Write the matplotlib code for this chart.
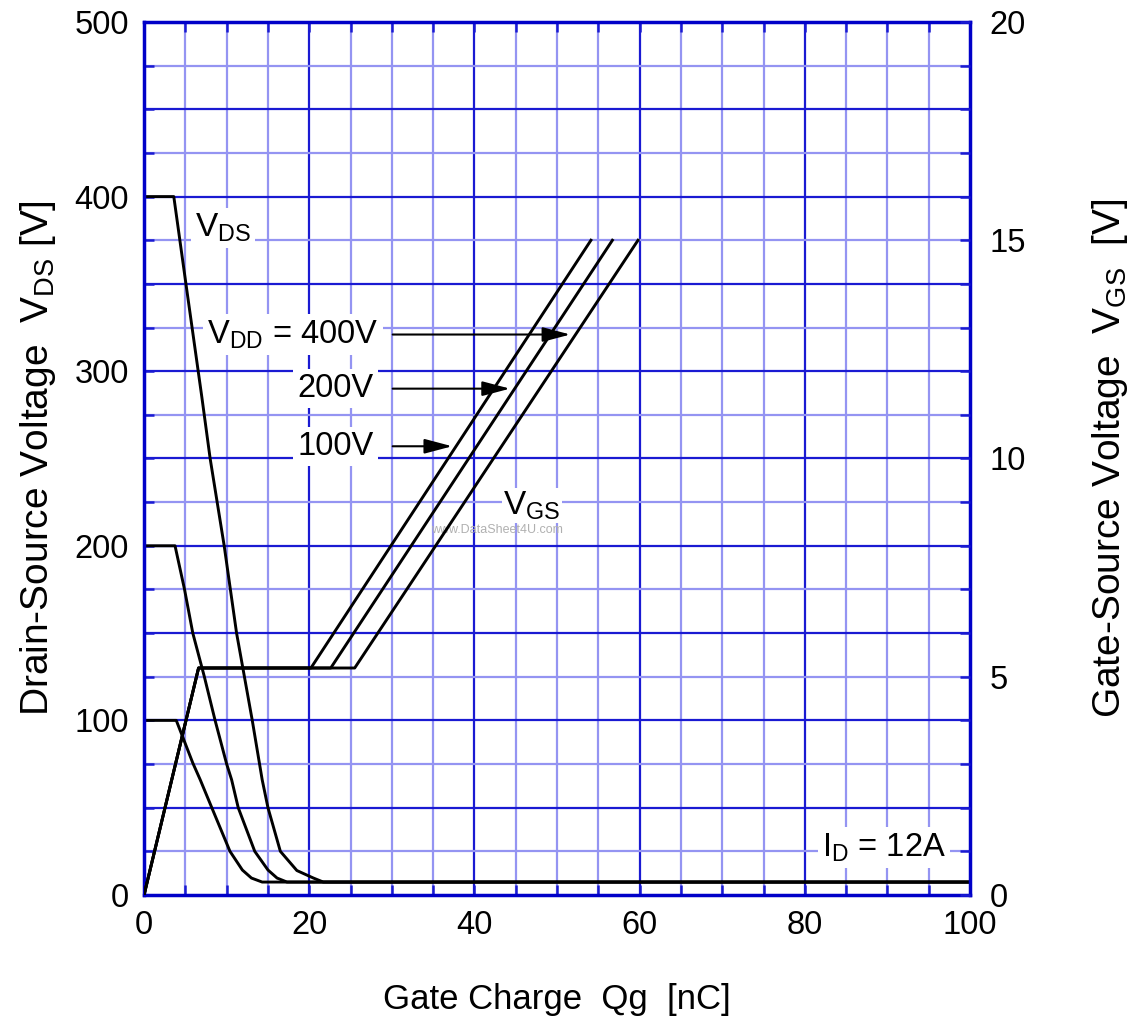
import numpy as np
import matplotlib.pyplot as plt

plt.rcParams['font.family'] = ['Liberation Sans', 'DejaVu Sans']
plt.rcParams['mathtext.fontset'] = 'custom'
plt.rcParams['mathtext.rm'] = 'Liberation Sans'
plt.rcParams['mathtext.it'] = 'Liberation Sans:italic'

# VDS curves (gate charge nC, drain-source voltage V)
qg_vds100 = [0, 3.9, 5.9, 6.8, 8.2, 10.4, 11.9, 13.0, 14.3, 100]
vds_100 = [100, 100, 75.6, 66, 50, 25, 14.3, 9.7, 7.4, 7.4]
qg_vds200 = [0, 3.75, 4.9, 5.9, 7.3, 8.6, 10.0, 10.6, 11.4, 13.4, 15.0, 16.1, 17.3, 100]
vds_200 = [200, 200, 175, 150, 125, 100, 75, 66, 50, 25, 14.3, 9.7, 7.4, 7.4]
qg_vds400 = [0, 3.6, 5.1, 7.0, 8.0, 9.7, 11.2, 13.1, 14.3, 15.0, 16.5, 18.5, 20.5, 21.7, 100]
vds_400 = [400, 400, 349, 285, 250, 200, 150, 100, 66, 50, 25, 14, 9.7, 7.4, 7.4]

# VGS curves (gate charge nC, gate-source voltage V)
qg_vgs100 = [0, 6.6, 20.2, 54.1]
qg_vgs200 = [0, 6.6, 22.6, 56.7]
qg_vgs400 = [0, 6.6, 25.5, 59.8]
vgs = [0, 5.2, 5.2, 15.0]

# arrow labels: text, arrow y (V), arrow tip x (nC)
vdd_labels = [r'V$_{\mathrm{DD}}$ = 400V', '200V', '100V']
arrow_y = [321, 290, 257]
arrow_tip = [51.6, 44.3, 37.3]

dark = '#1a1ad2'
light = '#9494f2'
spine = '#0000c8'

fig = plt.figure(figsize=(11.37, 10.28), dpi=100)
ax = fig.add_axes([0.1267, 0.1294, 0.7265, 0.8492])
ax.set_xlim(0, 100)
ax.set_ylim(0, 500)

for x in np.arange(5, 100, 5):
    major = x % 20 == 0
    ax.axvline(x, color=dark if major else light, lw=1.6, zorder=1)
for y in np.arange(25, 500, 25):
    major = y % 50 == 0
    ax.axhline(y, color=dark if major else light, lw=1.6, zorder=1)

for s in ax.spines.values():
    s.set_color(spine)
    s.set_linewidth(2.5)
    s.set_zorder(5)

ax.set_xticks(np.arange(0, 101, 20))
ax.set_xticks(np.arange(0, 101, 5), minor=True)
ax.set_yticks(np.arange(0, 501, 100))
ax.set_yticks(np.arange(0, 501, 25), minor=True)
ax.tick_params(which='both', direction='in', color=dark, width=1.8,
               length=7, top=True, labelsize=23.5, pad=11)

kw = dict(color='black', lw=2.1, zorder=4)
ax.plot(qg_vds100, vds_100, **kw)
ax.plot(qg_vds200, vds_200, **kw)
ax.plot(qg_vds400, vds_400, **kw)

ax2 = ax.twinx()
ax2.set_ylim(0, 20)
ax2.set_yticks(np.arange(0, 21, 5))
ax2.set_yticks(np.arange(0, 21, 1), minor=True)
ax2.tick_params(which='both', direction='in', color=dark, width=1.8,
                length=7, labelsize=23.5, pad=14)
for s in ax2.spines.values():
    s.set_visible(False)
ax2.plot(qg_vgs100, vgs, **kw)
ax2.plot(qg_vgs200, vgs, **kw)
ax2.plot(qg_vgs400, vgs, **kw)

box = dict(facecolor='white', edgecolor='none', pad=3)
ax.text(6.2, 382, r'V$_{\mathrm{DS}}$', fontsize=24, va='center', ha='left', bbox=box, zorder=3)
ax.text(43.5, 223, r'V$_{\mathrm{GS}}$', fontsize=24, va='center', ha='left',
        bbox=dict(facecolor='white', edgecolor='none', pad=1), zorder=3)
ax.text(82.1, 27, r'I$_{\mathrm{D}}$ = 12A', fontsize=23.5, va='center', ha='left', bbox=box, zorder=3)
ax.text(42.7, 209, 'www.DataSheet4U.com', fontsize=9, color='#b0b0b0', ha='center', va='center', zorder=3)

label_x = [28.4, 27.8, 27.8]
for lab, yv, tip, lx in zip(vdd_labels, arrow_y, arrow_tip, label_x):
    ax.text(lx, yv, lab, fontsize=23.5, va='center', ha='right', bbox=box, zorder=3)
    ax.annotate('', xy=(tip, yv), xytext=(30.1, yv),
                arrowprops=dict(arrowstyle='-|>,head_length=1.7,head_width=0.45',
                                color='black', lw=1.5, shrinkA=0, shrinkB=0), zorder=6)

ax.set_xlabel('Gate Charge  Qg  [nC]', fontsize=25, labelpad=30)
ax.set_ylabel(r'Drain-Source Voltage  V$_{\mathrm{DS}}$ [V]', fontsize=28, labelpad=12)
ax2.set_ylabel(r'Gate-Source Voltage  V$_{\mathrm{GS}}$  [V]', fontsize=28, labelpad=46)

fig.savefig('out.png', dpi=100)
